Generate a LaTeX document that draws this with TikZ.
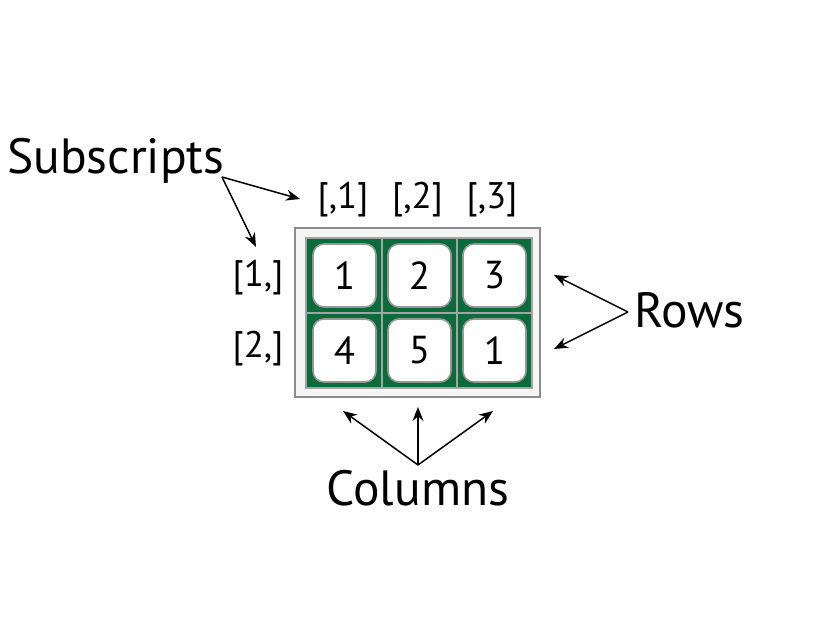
\documentclass[tikz,border=0pt]{standalone}
\usepackage{fontspec}
\setmainfont{PT Sans}
\usetikzlibrary{arrows.meta}
\definecolor{grn}{HTML}{0B6B3A}
\definecolor{frame}{HTML}{8C8C8C}
\definecolor{paper}{HTML}{F4F5F4}
\begin{document}
\begin{tikzpicture}[x=1pt,y=-1pt,
  cell/.style={draw=frame!90,line width=1.6pt,fill=white,rounded corners=11pt,minimum width=63pt,minimum height=63pt,inner sep=0pt,font=\fontsize{39}{42}\selectfont},
  idx/.style={inner sep=0pt,font=\fontsize{37}{40}\selectfont},
  big/.style={inner sep=0pt,font=\fontsize{49.5}{52}\selectfont},
  arr/.style={-{Stealth[length=14pt,width=11pt]},line width=1.5pt}]
\useasboundingbox (0,0) rectangle (836,626);
% frame
\draw[frame,line width=1.5pt,fill=paper] (295,228) rectangle (540,397);
\fill[grn] (306,238) rectangle (532,388);
\draw[frame!80,line width=1.2pt] (382,238) -- (382,388) (457,238) -- (457,388) (306,313) -- (532,313);
\draw[frame!80,line width=1.2pt] (306,238) rectangle (532,388);
% cells
\node[cell] (c11) at (344.5,275.5) {1};
\node[cell] (c12) at (419.5,275.5) {2};
\node[cell] (c13) at (494.5,275.5) {3};
\node[cell] (c21) at (344.5,350.5) {4};
\node[cell] (c22) at (419.5,350.5) {5};
\node[cell] (c23) at (494.5,350.5) {1};
% index labels
\node[idx] (k1) at (343,200) {[,1]};
\node[idx] (k2) at (417.5,200) {[,2]};
\node[idx] (k3) at (492,200) {[,3]};
\node[idx] (r1) at (258,278) {[1,]};
\node[idx] (r2) at (258,349) {[2,]};
% big labels
\node[big,anchor=base west] (sub) at (7,173) {Subscripts};
\node[big,anchor=base west] (rows) at (634,327) {Rows};
\node[big,anchor=base] (cols) at (418,505) {Columns};
% arrow hubs
\coordinate (hs) at (222,177);
\coordinate (hr) at (628,312);
\coordinate (hc) at (418,465);
\coordinate (ts1) at (300,199);
\coordinate (ts2) at (256,247);
\coordinate (tr1) at (554,275);
\coordinate (tr2) at (554,349);
\coordinate (tc1) at (343,411);
\coordinate (tc2) at (418,407);
\coordinate (tc3) at (493,411);
\draw[arr] (hs) -- (ts1);
\draw[arr] (hs) -- (ts2);
\draw[arr] (hr) -- (tr1);
\draw[arr] (hr) -- (tr2);
\draw[arr] (hc) -- (tc1);
\draw[arr] (hc) -- (tc2);
\draw[arr] (hc) -- (tc3);
\end{tikzpicture}
\end{document}
